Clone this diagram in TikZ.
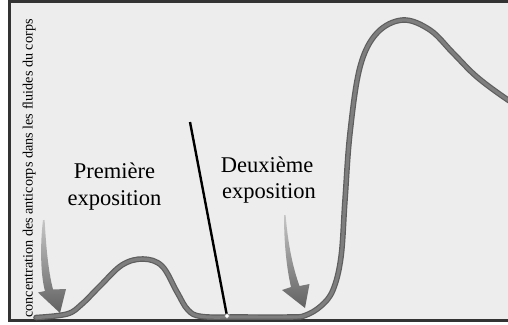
\documentclass[tikz,border=0pt]{standalone}
\usepackage{fontspec}
\setmainfont{Liberation Serif}
\definecolor{panel}{HTML}{EDEDED}
\definecolor{frame}{HTML}{333333}
\definecolor{curveout}{HTML}{5E5E5E}
\definecolor{curvein}{HTML}{7E7E7E}
\tikzset{
  lbl/.style={inner sep=0pt, anchor=base, font=\fontsize{22.5}{27}\selectfont},
  axislbl/.style={inner sep=0pt, rotate=90, anchor=base west, font=\fontsize{14.2}{17}\selectfont},
  arrowshape/.style={top color=gray!45, bottom color=black!62, draw=none},
}
\begin{document}
\begin{tikzpicture}[x=1pt,y=-1pt]
\useasboundingbox (0,0) rectangle (508,324);
\clip (0,0) rectangle (508,324);
\fill[white] (0,0) rectangle (508,324);
% panel
\draw[frame, line width=2.6pt, fill=panel] (9.6,1.3) rectangle (530,320.6);
% axis label
\node[axislbl] (ylab) at (32.5,318) {concentration des anticorps dans les fluides du corps};
% response curve
\foreach \w/\c in {5.6/curveout,3.2/curvein}{
\draw[\c, line width=\w pt, line cap=round, line join=round]
  plot[smooth, tension=0.6] coordinates {
  (36,317.5) (67,314) (82,304) (100,286) (122,265) (143,259) (162,266) (177,292) (188,310) (202,316.5)
  (240,317) (290,317) (305,315.5) (321,306) (333,290) (341,257) (345,200) (350,133) (360,67) (377,33)
  (403,20) (430,30) (453,53) (477,77) (508,100) (520,106)};
}
% separation line
\coordinate (lt) at (190,122);
\coordinate (lb) at (227,316);
\draw[black, line width=2.4pt] (lt) -- (lb);
\node[circle, fill=white, draw=gray, line width=0.6pt, inner sep=0pt, minimum size=4.5pt] (dot) at (lb) {};
% arrows
\shade[arrowshape] (43,220) .. controls (40,245) and (40.5,275) .. (45,291) -- (38,292.5) -- (60,313) -- (66,289) -- (53,289.5)
  .. controls (48,270) and (46,245) .. (44.6,220) -- cycle;
\shade[arrowshape] (284,215) .. controls (284,245) and (287,270) .. (291,287) -- (282,290) -- (305,308) -- (309.5,284) -- (299.5,286)
  .. controls (293,268) and (288,245) .. (285.6,215) -- cycle;
% labels
\node[lbl] (p1) at (114.5,178) {Première};
\node[lbl] (p2) at (114.5,205) {exposition};
\node[lbl] (d1) at (267,172) {Deuxième};
\node[lbl] (d2) at (269,198.5) {exposition};
\end{tikzpicture}
\end{document}
